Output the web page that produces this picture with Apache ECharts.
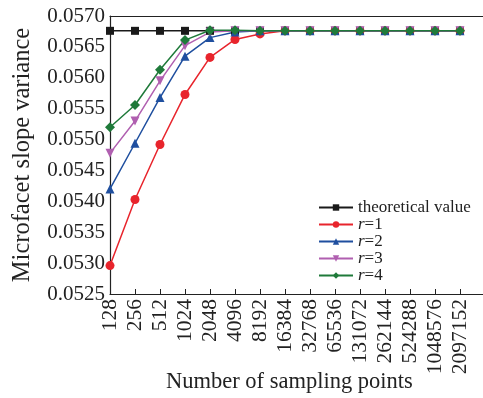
<!DOCTYPE html>
<html>
<head>
<meta charset="utf-8">
<script src="https://cdn.jsdelivr.net/npm/echarts@6/dist/echarts.min.js"></script>
<style>
  html, body { margin: 0; padding: 0; background: #fff; }
  #chart { width: 483px; height: 398px; }
</style>
</head>
<body>
<div id="chart"></div>
<script>
// sampling point counts (x categories)
const samplingPoints = ['128', '256', '512', '1024', '2048', '4096', '8192', '16384',
  '32768', '65536', '131072', '262144', '524288', '1048576', '2097152']

// microfacet slope variance per series
const theoretical = [0.05676, 0.05676, 0.05676, 0.05676, 0.05676, 0.05676, 0.05676, 0.05676,
  0.05676, 0.05676, 0.05676, 0.05676, 0.05676, 0.05676, 0.05676]
const r1 = [0.05296, 0.05403, 0.05492, 0.05573, 0.05633, 0.05662, 0.05671, 0.05676,
  0.05676, 0.05676, 0.05676, 0.05676, 0.05676, 0.05676, 0.05676]
const r2 = [0.05420, 0.05494, 0.05568, 0.05635, 0.05665, 0.05674, 0.05676, 0.05676,
  0.05676, 0.05676, 0.05676, 0.05676, 0.05676, 0.05676, 0.05676]
const r3 = [0.05478, 0.05530, 0.05595, 0.05652, 0.05674, 0.05676, 0.05676, 0.05676,
  0.05676, 0.05676, 0.05676, 0.05676, 0.05676, 0.05676, 0.05676]
const r4 = [0.05520, 0.05556, 0.05613, 0.05661, 0.05677, 0.05677, 0.05676, 0.05676,
  0.05676, 0.05676, 0.05676, 0.05676, 0.05676, 0.05676, 0.05676]

const SERIF = '"Liberation Serif", "DejaVu Serif", serif'
const COLORS = {
  theory: '#1a1a1a',
  r1: '#e8242c',
  r2: '#1f4f9f',
  r3: '#b05fb0',
  r4: '#1f7a3a',
}

// one extra empty category so the axis runs past the last point like the original
const xCats = samplingPoints.concat([''])

function mk(name, data, color, symbol, size, rotate) {
  return {
    name, type: 'line', data,
    symbol, symbolSize: size, symbolRotate: rotate || 0,
    lineStyle: { color, width: 1.5 },
    itemStyle: { color },
    emphasis: { disabled: true },
  }
}

const chart = echarts.init(document.getElementById('chart'), null, { renderer: 'canvas' })
chart.setOption({
  animation: false,
  backgroundColor: '#fff',
  textStyle: { fontFamily: SERIF },
  // x axis title sits closer to the tick labels than the axis name logic allows
  title: {
    text: 'Number of sampling points',
    left: 166, top: 371, padding: 0,
    textStyle: { fontFamily: SERIF, fontSize: 22.5, fontWeight: 'normal', color: '#222' },
  },
  grid: { left: 110, right: -2, top: 16, bottom: 104, outerBoundsMode: 'none', containLabel: false },
  legend: {
    orient: 'vertical',
    left: 313, top: 194,
    itemWidth: 34, itemHeight: 8, itemGap: 0,
    textStyle: {
      fontFamily: SERIF, fontSize: 17, color: '#222', lineHeight: 16,
      rich: { i: { fontFamily: SERIF, fontSize: 17, fontStyle: 'italic', color: '#222', lineHeight: 16 } },
    },
    formatter: n => n.startsWith('r=') ? '{i|r}=' + n.slice(2) : n,
    data: ['theoretical value', 'r=1', 'r=2', 'r=3', 'r=4'],
  },
  xAxis: [
    {
      type: 'category', data: xCats, boundaryGap: false,
      axisLine: { lineStyle: { color: '#222', width: 1.2 } },
      axisTick: { inside: true, length: 5, lineStyle: { color: '#222' }, alignWithLabel: true },
      axisLabel: { rotate: 90, fontFamily: SERIF, fontSize: 21.5, color: '#222', margin: 5, interval: 0 },
      splitLine: { show: false },
    },
    {
      type: 'category', data: xCats, boundaryGap: false, position: 'top',
      axisLine: { lineStyle: { color: '#222', width: 1.2 } },
      axisTick: { show: false }, axisLabel: { show: false }, splitLine: { show: false },
    },
  ],
  yAxis: {
    type: 'value', min: 0.0525, max: 0.0570, interval: 0.0005,
    name: 'Microfacet slope variance', nameLocation: 'middle', nameGap: 75,
    nameTextStyle: { fontFamily: SERIF, fontSize: 24.5, color: '#222' },
    axisLine: { show: true, lineStyle: { color: '#222', width: 1.2 } },
    axisTick: { inside: true, length: 5, lineStyle: { color: '#222' } },
    axisLabel: { fontFamily: SERIF, fontSize: 21, color: '#222', margin: 5, formatter: v => v.toFixed(4) },
    splitLine: { show: false },
  },
  series: [
    mk('theoretical value', theoretical, COLORS.theory, 'rect', 8),
    mk('r=1', r1, COLORS.r1, 'circle', 9),
    mk('r=2', r2, COLORS.r2, 'triangle', 9),
    mk('r=3', r3, COLORS.r3, 'triangle', 9, 180),
    mk('r=4', r4, COLORS.r4, 'diamond', 10),
  ],
})
</script>
</body>
</html>
